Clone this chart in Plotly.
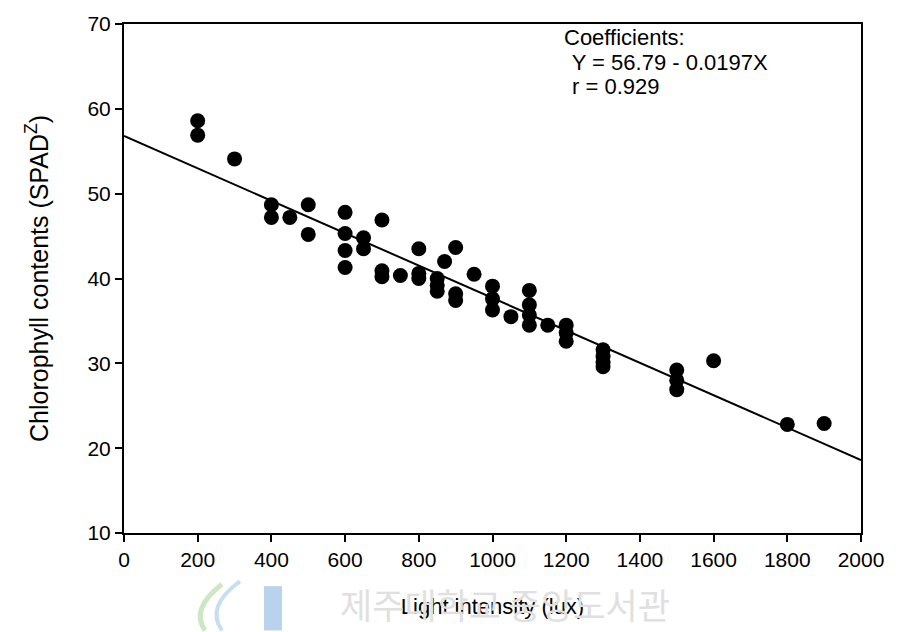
import plotly.graph_objects as go

# Data
light_lux = [200, 200, 300, 400, 400, 450, 500, 500,
             600, 600, 600, 600, 650, 650, 700, 700, 700, 750,
             800, 800, 800, 850, 850, 850, 870, 900, 900, 900, 950,
             1000, 1000, 1000, 1050, 1100, 1100, 1100, 1100, 1150,
             1200, 1200, 1200, 1300, 1300, 1300, 1300,
             1500, 1500, 1500, 1600, 1800, 1900]
spad = [58.6, 56.9, 54.1, 48.7, 47.2, 47.2, 48.7, 45.2,
        47.8, 45.3, 43.3, 41.3, 44.8, 43.5, 46.9, 40.9, 40.2, 40.35,
        43.5, 40.6, 40.0, 40.0, 39.2, 38.5, 42.0, 43.65, 38.2, 37.4, 40.5,
        39.1, 37.6, 36.3, 35.5, 38.6, 36.9, 35.7, 34.5, 34.5,
        34.5, 33.6, 32.6, 31.6, 30.8, 30.1, 29.6,
        29.2, 28.0, 26.9, 30.3, 22.8, 22.9]

fit_x = [0, 2000]
fit_y = [56.8, 18.6]

x_ticks = [0, 200, 400, 600, 800, 1000, 1200, 1400, 1600, 1800, 2000]
y_ticks = [10, 20, 30, 40, 50, 60, 70]

coef_lines = ["Coefficients:", " Y = 56.79 - 0.0197X", " r = 0.929"]

FONT = "Liberation Sans, Arial, sans-serif"

fig = go.Figure()
fig.add_trace(go.Scatter(x=fit_x, y=fit_y, mode="lines",
                         line=dict(color="black", width=2), showlegend=False,
                         hoverinfo="skip"))
fig.add_trace(go.Scatter(x=light_lux, y=spad, mode="markers",
                         marker=dict(color="black", size=15, line=dict(width=0)),
                         showlegend=False))

fig.update_layout(
    width=899, height=632,
    margin=dict(l=124, r=38, t=16, b=99),
    plot_bgcolor="white", paper_bgcolor="white",
    font=dict(family=FONT, color="black", size=21),
    xaxis=dict(range=[0, 2000], tickvals=x_ticks, ticktext=[str(v) for v in x_ticks],
               showline=True, linecolor="black", linewidth=2, mirror=True,
               ticks="outside", ticklen=7, tickwidth=1.5, tickcolor="black",
               showgrid=False, zeroline=False,
               tickfont=dict(size=21, family=FONT),
               title=dict(text="Light intensity (lux)", font=dict(size=22, family=FONT), standoff=28)),
    yaxis=dict(range=[10, 70], tickvals=y_ticks,
               showline=True, linecolor="black", linewidth=2, mirror=True,
               ticks="outside", ticklen=7, tickwidth=1.5, tickcolor="black",
               showgrid=False, zeroline=False,
               tickfont=dict(size=21, family=FONT),
               title=dict(text="Chlorophyll contents (SPAD<sup>Z</sup>)",
                          font=dict(size=25, family=FONT), standoff=32)),
)

# coefficient text block
for i, t in enumerate(coef_lines):
    fig.add_annotation(x=1188 + (6 if i else 0), y=68.4 - 2.9 * i, xref="x", yref="y",
                       text=t, showarrow=False, xanchor="left", yanchor="middle",
                       font=dict(size=22, family=FONT, color="black"))

# faint library watermark below the axis
fig.add_shape(type="rect", xref="paper", yref="paper",
              x0=(264 - 124) / 737, x1=(282 - 124) / 737,
              y0=-(587 - 533) / 517, y1=-(632 - 533) / 517,
              fillcolor="#b9d3ec", line=dict(width=0), layer="below")
fig.add_shape(type="path", xref="paper", yref="paper",
              path="M %f %f Q %f %f %f %f" % ((222 - 124) / 737, -(585 - 533) / 517,
                                              (190 - 124) / 737, -(610 - 533) / 517,
                                              (205 - 124) / 737, -(632 - 533) / 517),
              line=dict(color="#cfe6c4", width=5), layer="below")
fig.add_shape(type="path", xref="paper", yref="paper",
              path="M %f %f Q %f %f %f %f" % ((240 - 124) / 737, -(582 - 533) / 517,
                                              (205 - 124) / 737, -(608 - 533) / 517,
                                              (222 - 124) / 737, -(632 - 533) / 517),
              line=dict(color="#c6def0", width=4), layer="below")
fig.add_annotation(x=(505 - 124) / 737, y=-(605 - 533) / 517, xref="paper", yref="paper",
                   text="제주대학교 중앙도서관", showarrow=False, xanchor="center", yanchor="middle",
                   font=dict(size=35, family="Noto Sans CJK KR", color="#e0e0e0"))

fig.write_html("out.html")
